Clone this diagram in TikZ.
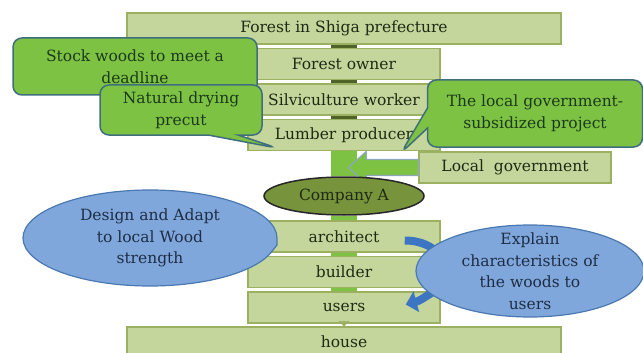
\documentclass[tikz,border=0pt]{standalone}
\usepackage{fontspec}
\setmainfont{DejaVu Serif}
\usetikzlibrary{shapes.geometric,shapes.callouts,arrows.meta,calc,backgrounds}

\definecolor{boxfill}{HTML}{C4D69B}
\definecolor{boxline}{HTML}{9BB060}
\definecolor{boxtext}{HTML}{1F2A14}
\definecolor{callfill}{HTML}{7DC243}
\definecolor{callline}{HTML}{3F6F7C}
\definecolor{calltext}{HTML}{1C3A1A}
\definecolor{bluefill}{HTML}{7FA7DC}
\definecolor{blueline}{HTML}{4A78B0}
\definecolor{bluetext}{HTML}{1F2D44}
\definecolor{bluearrow}{HTML}{3C76C2}
\definecolor{companyfill}{HTML}{77933C}
\definecolor{darklink}{HTML}{4F6228}
\definecolor{arrowline}{HTML}{8EA9BC}

\tikzset{
	rolebox/.style={draw=boxline, fill=boxfill, line width=1.5pt, minimum width=192pt, minimum height=31pt, inner sep=0pt, text=boxtext},
	widebox/.style={rolebox, minimum width=434pt},
	greencall/.style={rectangle callout, draw=callline, fill=callfill, line width=1.5pt, rounded corners=9pt, align=center, text=calltext, inner sep=0pt},
	bluecall/.style={ellipse callout, draw=blueline, fill=bluefill, line width=1.2pt, align=center, text=bluetext, inner sep=0pt},
	blueoval/.style={ellipse, draw=blueline, fill=bluefill, line width=1.2pt, align=center, text=bluetext, inner xsep=0pt, inner ysep=-9pt},
	darkbar/.style={draw=darklink, line width=26pt},
	greenbar/.style={draw=callfill, line width=26pt},
	govarrow/.style={draw=arrowline, fill=callfill, line width=1.2pt, line join=round},
	bluebend/.style={draw=bluearrow, line width=8pt, -{Triangle[length=11pt,width=21pt]}},
	tiplink/.style={draw=boxline, line width=0.4pt, -{Triangle[length=5pt,width=11pt]}}
}

\begin{document}
\begin{tikzpicture}[x=1pt, y=-1pt, font=\fontsize{15.5}{21.5}\selectfont]

	\useasboundingbox (0,0) rectangle (643,353);
	\clip (0,0) rectangle (643,353);

	% supply chain
	\node [widebox] (forest) at (344,28.5) {Forest in Shiga prefecture};
	\node [rolebox] (owner) at (344,64) {Forest owner};
	\node [rolebox] (worker) at (344,99.5) {Silviculture worker};
	\node [rolebox] (lumber) at (344,135) {Lumber producer};
	\node [rolebox] (localgov) at (515,167.5) {Local\ \ government};

	\draw [darkbar] (forest.south) -- (owner.north);
	\draw [darkbar] (owner.south) -- (worker.north);
	\draw [darkbar] (worker.south) -- (lumber.north);

	% subsidy
	\draw [govarrow] ($(localgov.west)+(0,-8)$) -- ++(-52,0) -- ++(0,-8) -- ++(-18,16) -- ++(18,16) -- ++(0,-8) -- ++(52,0) -- cycle;

	\node [ellipse, draw=black!85, fill=companyfill, line width=1.5pt, minimum width=160pt, minimum height=38pt, inner sep=0pt, text=boxtext] (company) at (344,196) {Company A};

	\begin{scope}[on background layer]
		\draw [greenbar] (lumber.south) -- (company.north);
	\end{scope}

	% building
	\node [rolebox] (architect) at (344,236.5) {architect};
	\node [rolebox] (builder) at (344,272) {builder};
	\node [rolebox] (users) at (344,307.5) {users};
	\node [widebox, minimum height=30pt] (house) at (344,342) {house};

	\draw [greenbar] (company.south) -- (architect.north);
	\draw [greenbar] (architect.south) -- (builder.north);
	\draw [greenbar] (builder.south) -- (users.north);
	\draw [tiplink] (users.south) -- (house.north);

	% notes
	\node [greencall, minimum width=244pt, minimum height=57pt, callout absolute pointer={(200,100)}, callout pointer width=20pt] (stock) at (135,66.5) {Stock woods to meet a\\deadline};
	\node [greencall, minimum width=162pt, minimum height=50pt, callout absolute pointer={(277,148)}, callout pointer width=30pt] (drying) at (181,110) {Natural drying\\precut};
	\node [greencall, minimum width=215pt, minimum height=67pt, callout absolute pointer={(401,153)}, callout pointer width=20pt] (subsidy) at (535,113.5) {The local government-\\subsidized project};

	\node [bluecall, minimum width=254pt, minimum height=96pt, callout absolute pointer={(277,245)}] (design) at (150,238) {Design and Adapt\\to local Wood\\strength};

	\coordinate (explainin) at (442,262);
	\coordinate (explainout) at (450,285);
	\draw [bluebend] ($(architect.east)+(-36,4)$) to [out=0, in=120] (explainin);
	\draw [bluebend] (explainout) to [out=195, in=15] ($(users.east)+(-35,-3)$);

	\node [blueoval, minimum width=228pt, minimum height=92pt] (explain) at (530,271) {Explain\\characteristics of\\the woods to\\users};

\end{tikzpicture}
\end{document}
